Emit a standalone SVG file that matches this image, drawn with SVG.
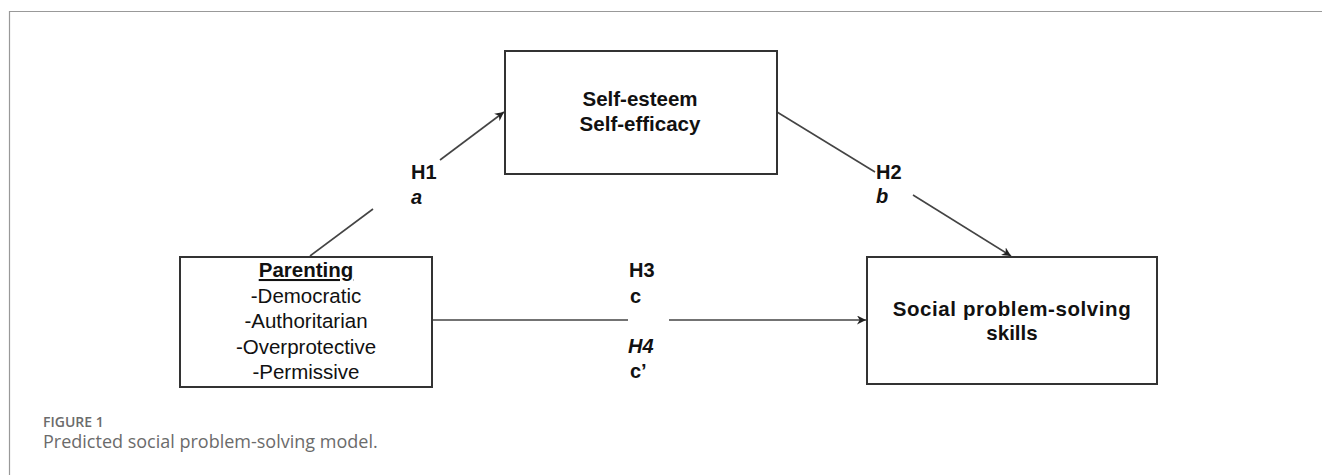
<svg xmlns="http://www.w3.org/2000/svg" width="1322" height="475" viewBox="0 0 1322 475">
<style>
.box{fill:#fff;stroke:#333;stroke-width:2}
.con{fill:none;stroke:#444;stroke-width:1.6}
.t{font-family:"Liberation Sans",Arial,sans-serif;fill:#111}
.b{font-weight:bold}
.cap{font-family:"Open Sans","Liberation Sans",sans-serif;fill:#6b6b6b}
</style>
<defs>
<marker id="ar" viewBox="0 0 10 10" refX="10" refY="5" markerWidth="9" markerHeight="9" markerUnits="userSpaceOnUse" orient="auto">
<path d="M0,0 L10,5 L0,10 L3,5 Z" fill="#222"/>
</marker>
</defs>
<rect width="1322" height="475" fill="#fff"/>
<path d="M9.5,475 V11.5 H1322" fill="none" stroke="#999" stroke-width="1.2"/>
<g id="connectors">
<line class="con" x1="310" y1="256" x2="373" y2="209"/>
<line class="con" x1="440" y1="160" x2="504" y2="112" marker-end="url(#ar)"/>
<line class="con" x1="777" y1="112" x2="875" y2="172"/>
<line class="con" x1="913" y1="195" x2="1011" y2="256" marker-end="url(#ar)"/>
<line class="con" x1="432" y1="320" x2="628" y2="320"/>
<line class="con" x1="669" y1="320" x2="866" y2="320" marker-end="url(#ar)"/>
</g>
<g id="labels">
<text class="t b" x="411" y="179" font-size="20">H1</text>
<text class="t b" x="411" y="204" font-size="20" font-style="italic">a</text>
<text class="t b" x="876" y="179" font-size="20">H2</text>
<text class="t b" x="876" y="203" font-size="20" font-style="italic">b</text>
<text class="t b" x="629" y="277" font-size="20">H3</text>
<text class="t b" x="630" y="303" font-size="20">c</text>
<text class="t b" x="628" y="353" font-size="20" font-style="italic">H4</text>
<text class="t b" x="630" y="378" font-size="20">c’</text>
</g>
<g id="node-self">
<rect class="box" x="505" y="51" width="272" height="123"/>
<text class="t b" x="640" y="106" font-size="20.5" text-anchor="middle">Self-esteem</text>
<text class="t b" x="640" y="131" font-size="20.5" text-anchor="middle">Self-efficacy</text>
</g>
<g id="node-parenting">
<rect class="box" x="180" y="257" width="252" height="130"/>
<text class="t b" x="306" y="277" font-size="20.5" text-anchor="middle" text-decoration="underline">Parenting</text>
<text class="t" x="306" y="303" font-size="20.5" text-anchor="middle">-Democratic</text>
<text class="t" x="306" y="328" font-size="20.5" text-anchor="middle">-Authoritarian</text>
<text class="t" x="306" y="354" font-size="20.5" text-anchor="middle">-Overprotective</text>
<text class="t" x="306" y="379" font-size="20.5" text-anchor="middle">-Permissive</text>
</g>
<g id="node-social">
<rect class="box" x="867" y="257" width="290" height="127"/>
<text class="t b" x="1012" y="316" font-size="20.5" text-anchor="middle" letter-spacing="0.6">Social problem-solving</text>
<text class="t b" x="1012" y="340" font-size="20.5" text-anchor="middle">skills</text>
</g>
<g id="caption">
<text class="cap" x="43" y="427" font-size="14" font-weight="600">FIGURE 1</text>
<text class="cap" x="43" y="448" font-size="18">Predicted social problem-solving model.</text>
</g>
</svg>
